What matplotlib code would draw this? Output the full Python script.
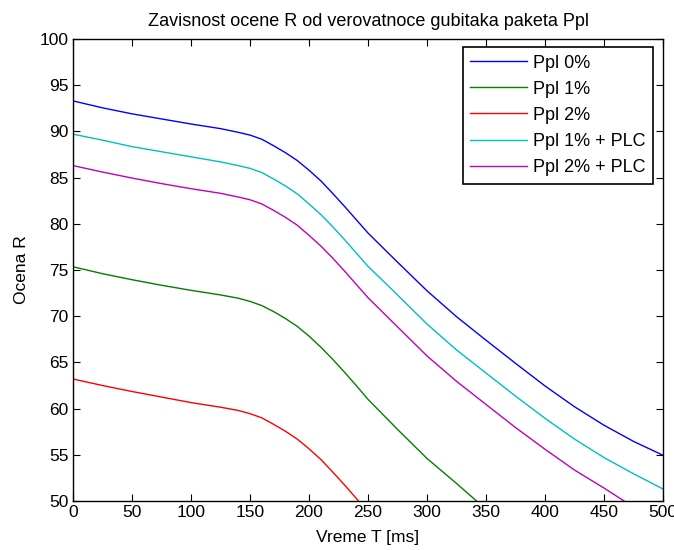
import matplotlib
matplotlib.use("Agg")
import matplotlib.pyplot as plt

plt.rcParams['font.family'] = ['Liberation Sans', 'DejaVu Sans']

T = [0, 25, 50, 75, 100, 125, 140, 150, 160, 170, 180, 190, 200, 210, 220,
     230, 240, 250, 275, 300, 325, 350, 375, 400, 425, 450, 475, 500]

r_ppl0 = [93.3, 92.55, 91.9, 91.35, 90.8, 90.3, 89.9, 89.6, 89.15, 88.45,
          87.7, 86.85, 85.8, 84.65, 83.3, 81.9, 80.45, 79.0, 75.85, 72.75,
          69.95, 67.4, 64.9, 62.45, 60.2, 58.2, 56.45, 54.95]
r_ppl1_plc = [89.7, 89.05, 88.35, 87.8, 87.25, 86.7, 86.3, 86.0, 85.55, 84.85,
              84.1, 83.25, 82.15, 81.0, 79.7, 78.3, 76.85, 75.4, 72.3, 69.15,
              66.35, 63.85, 61.35, 58.95, 56.7, 54.7, 52.95, 51.3]

T_ppl2_plc = [0, 25, 50, 75, 100, 125, 140, 150, 160, 170, 180, 190, 200, 210,
              220, 230, 240, 250, 275, 300, 325, 350, 375, 400, 425, 450, 467,
              475]
r_ppl2_plc = [86.3, 85.6, 84.95, 84.35, 83.8, 83.3, 82.9, 82.6, 82.15, 81.45,
              80.7, 79.85, 78.75, 77.6, 76.3, 74.9, 73.45, 72.0, 68.85, 65.7,
              62.95, 60.45, 57.95, 55.6, 53.35, 51.4, 50.0, 49.4]

T_ppl1 = [0, 25, 50, 75, 100, 125, 140, 150, 160, 170, 180, 190, 200, 210,
          220, 230, 240, 250, 275, 300, 325, 342, 350]
r_ppl1 = [75.35, 74.6, 73.95, 73.35, 72.8, 72.3, 71.95, 71.6, 71.15, 70.5,
          69.75, 68.9, 67.85, 66.65, 65.35, 63.95, 62.5, 61.0, 57.75, 54.6,
          51.9, 50.0, 49.4]

T_ppl2 = [0, 25, 50, 75, 100, 125, 140, 150, 160, 170, 180, 190, 200, 210,
          220, 230, 242, 250]
r_ppl2 = [63.2, 62.5, 61.85, 61.25, 60.65, 60.15, 59.8, 59.45, 59.0, 58.3,
          57.55, 56.7, 55.65, 54.5, 53.15, 51.75, 50.0, 48.85]

labels = ['Ppl 0%', 'Ppl 1%', 'Ppl 2%', 'Ppl 1% + PLC', 'Ppl 2% + PLC']
colors = ['#0000ff', '#008000', '#ff0000', '#00bfbf', '#bf00bf']

fig = plt.figure(figsize=(6.74, 5.5), dpi=100)
ax = fig.add_axes([0.1083, 0.0891, 0.8754, 0.840])

series = [(T, r_ppl0), (T_ppl1, r_ppl1), (T_ppl2, r_ppl2),
          (T, r_ppl1_plc), (T_ppl2_plc, r_ppl2_plc)]
for (x, y), lab, c in zip(series, labels, colors):
    ax.plot(x, y, color=c, lw=1.0, label=lab)

ax.set_xlim(0, 500)
ax.set_ylim(50, 100)
ax.set_xticks(range(0, 501, 50))
ax.set_yticks(range(50, 101, 5))
ax.tick_params(direction='in', top=True, right=True, length=5, width=0.8,
               labelsize=12.5, pad=3)
for s in ax.spines.values():
    s.set_linewidth(1.0)

ax.set_xlabel('Vreme T [ms]', fontsize=12.5, labelpad=7)
ax.set_ylabel('Ocena R', fontsize=12.5, labelpad=8)
ax.set_title('Zavisnost ocene R od verovatnoce gubitaka paketa Ppl',
             fontsize=13, pad=9)

leg = ax.legend(loc='upper right', bbox_to_anchor=(1 - 10 / 590, 1 - 8 / 462),
                borderaxespad=0, fontsize=13, fancybox=False, framealpha=1,
                edgecolor='black', handlelength=3.15, borderpad=0.43,
                labelspacing=0.5, handletextpad=0.3)
leg.get_frame().set_linewidth(1.2)

fig.savefig('out.png', dpi=100)
